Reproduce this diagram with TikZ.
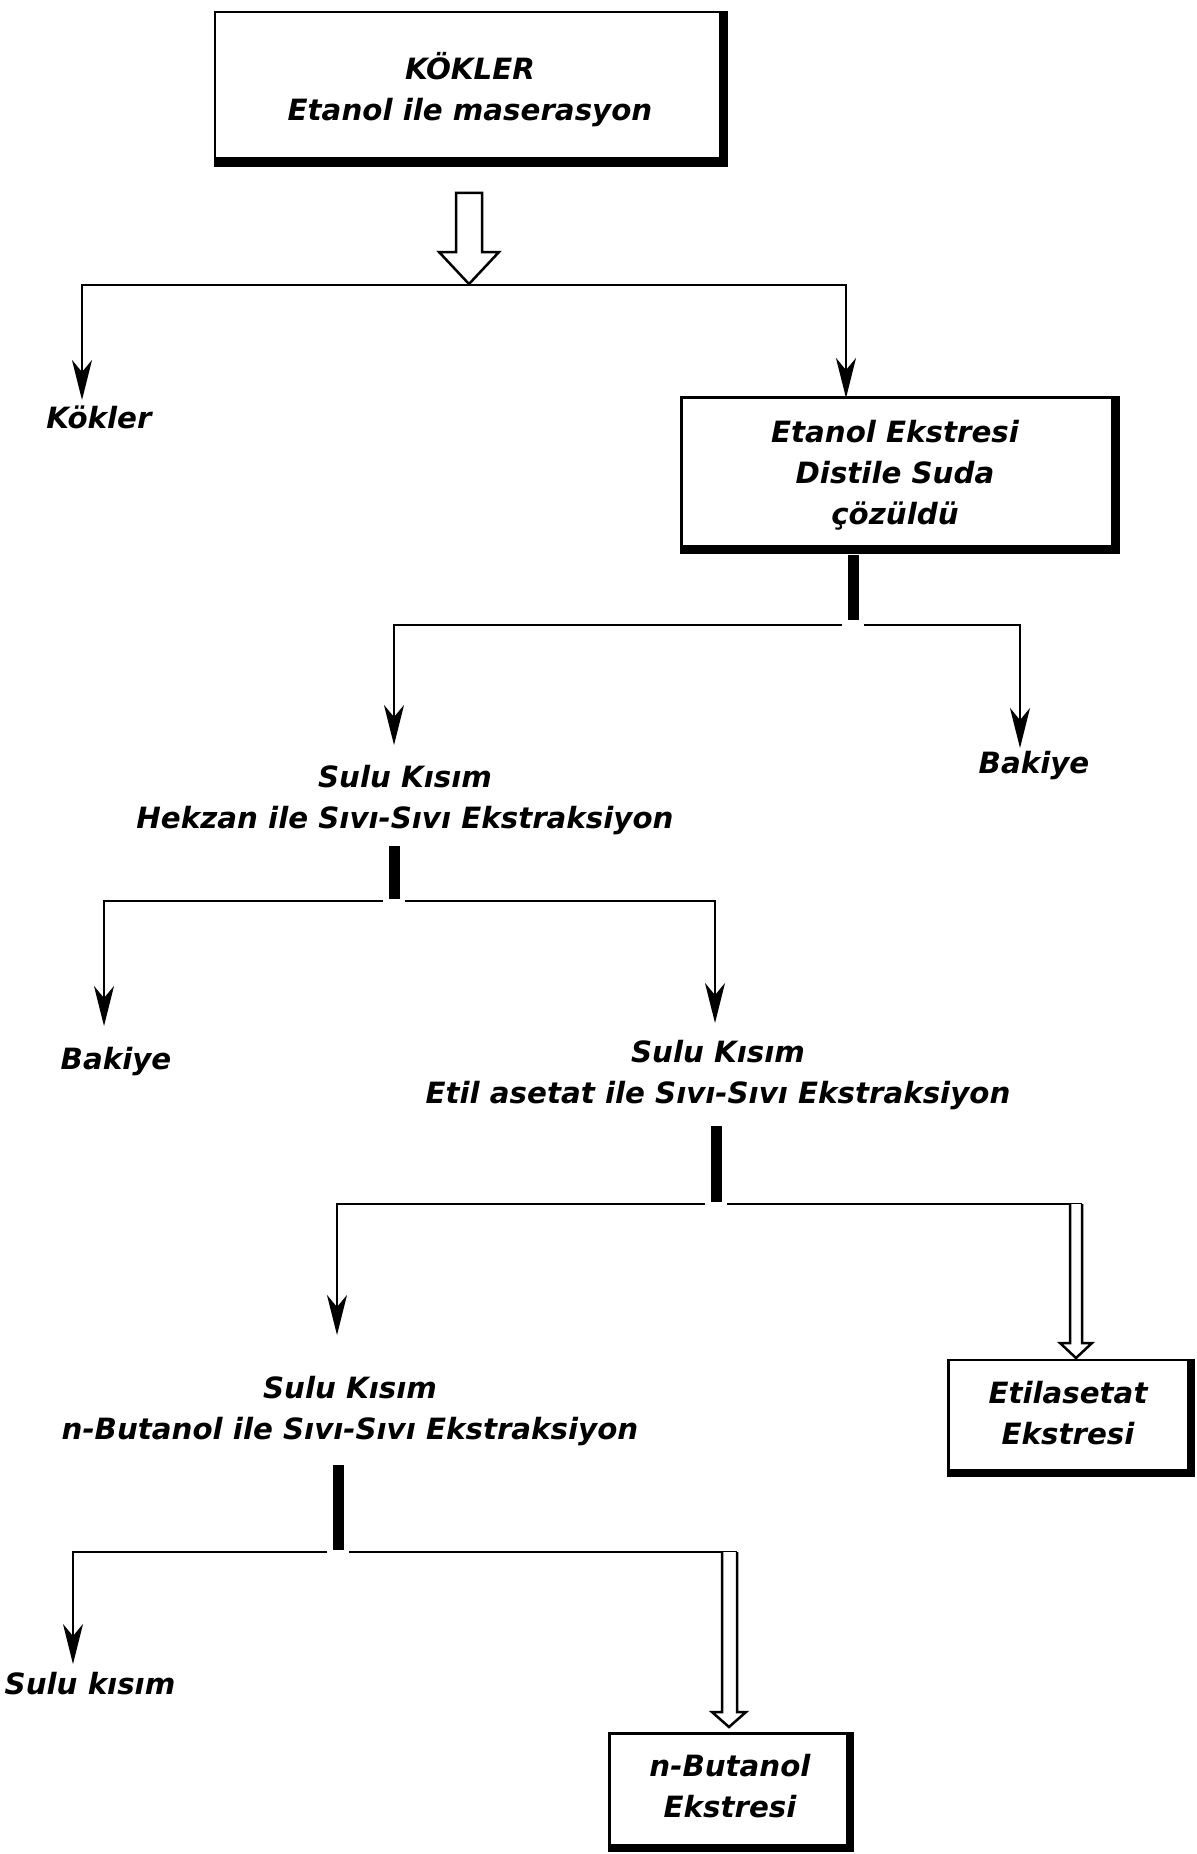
\documentclass[tikz,border=0pt]{standalone}
\usepackage{fontspec}
\setmainfont{DejaVu Sans}
\usetikzlibrary{arrows.meta,calc}
\begin{document}
\begin{tikzpicture}[x=1pt,y=-1pt,
  lbl/.style={font=\fontsize{29.3}{41}\selectfont\bfseries\itshape, align=center, inner sep=0pt},
  conn/.style={line width=2.5pt},
  arr/.style={conn, -{Stealth[length=40pt,width=20pt,inset=12pt]}},
  thickbar/.style={line width=11pt},
  hollow/.style={line width=2.5pt, fill=white, line join=miter},
  boxed/.style={draw, line width=2.5pt, inner sep=0pt}]
% canvas
\fill[white] (0,0) rectangle (1196,1854);
\useasboundingbox (0,0) rectangle (1196,1854);

% ---------- boxes ----------
\node[boxed, minimum width=512pt, minimum height=154pt] (top) at (471,89) {};
\node[lbl] (toptxt) at (470,90) {KÖKLER\\Etanol ile maserasyon};
\fill ($(top.north east)+(-9,0)$) rectangle (top.south east);
\fill ($(top.south west)+(0,-10)$) rectangle (top.south east);

\node[boxed, minimum width=437pt, minimum height=155pt] (etanol) at (900,475) {};
\node[lbl] (etanoltxt) at (895,475) {Etanol Ekstresi\\Distile Suda\\çözüldü};
\fill ($(etanol.north east)+(-9,0)$) rectangle (etanol.south east);
\fill ($(etanol.south west)+(0,-9)$) rectangle (etanol.south east);

\node[boxed, minimum width=245pt, minimum height=116pt] (etil) at (1071,1418) {};
\node[lbl] (etiltxt) at (1068,1413) {Etilasetat\\Ekstresi};
\fill ($(etil.north east)+(-8,0)$) rectangle (etil.south east);
\fill ($(etil.south west)+(0,-8)$) rectangle (etil.south east);

\node[boxed, minimum width=243pt, minimum height=117pt] (butanol) at (731,1792) {};
\node[lbl] (butanoltxt) at (730,1786) {n-Butanol\\Ekstresi};
\fill ($(butanol.north east)+(-8,0)$) rectangle (butanol.south east);
\fill ($(butanol.south west)+(0,-8)$) rectangle (butanol.south east);

% ---------- free labels ----------
\node[lbl] (kokler) at (99,417) {Kökler};
\node[lbl] (bakiye1) at (1034,766) {Bakiye};
\node[lbl] (sulu1) at (405,800) {Sulu Kısım\\Hekzan ile Sıvı-Sıvı Ekstraksiyon};
\node[lbl] (bakiye2) at (116,1062) {Bakiye};
\node[lbl] (sulu2) at (718,1075) {Sulu Kısım\\Etil asetat ile Sıvı-Sıvı Ekstraksiyon};
\node[lbl] (sulu3) at (350,1411) {Sulu Kısım\\n-Butanol ile Sıvı-Sıvı Ekstraksiyon};
\node[lbl] (sulu4) at (90,1684) {Sulu kısım};

% ---------- step 1: maceration split ----------
\draw[hollow] (456,193) -- (456,252) -- (439,252) -- (469,284) -- (499,252) -- (482,252) -- (482,193) -- cycle;
\coordinate (s1) at (469,285);
\coordinate (t1a) at (82,400);
\coordinate (t1b) at (846,398);
\draw[arr] (s1) -| (t1a);
\draw[arr] (s1) -| (t1b);

% ---------- step 2: dissolved extract ----------
\draw[thickbar] (853,555) -- (853,620);
\coordinate (g2l) at (842,625);
\coordinate (g2r) at (864,625);
\coordinate (t2a) at (394,745);
\coordinate (t2b) at (1020,748);
\draw[arr] (g2l) -| (t2a);
\draw[arr] (g2r) -| (t2b);

% ---------- step 3: hexane ----------
\draw[thickbar] (394,846) -- (394,899);
\coordinate (g3l) at (383,901);
\coordinate (g3r) at (405,901);
\coordinate (t3a) at (104,1026);
\coordinate (t3b) at (715,1023);
\draw[arr] (g3l) -| (t3a);
\draw[arr] (g3r) -| (t3b);

% ---------- step 4: ethyl acetate ----------
\draw[thickbar] (716,1126) -- (716,1202);
\coordinate (g4l) at (705,1204);
\coordinate (g4r) at (727,1204);
\coordinate (t4a) at (337,1335);
\draw[arr] (g4l) -| (t4a);
\draw[conn] (g4r) -- (1082,1204);
\draw[hollow] (1070,1204) -- (1070,1343) -- (1060,1343) -- (1076,1358) -- (1092,1343) -- (1082,1343) -- (1082,1204);

% ---------- step 5: n-butanol ----------
\draw[thickbar] (338,1465) -- (338,1550);
\coordinate (g5l) at (327,1552);
\coordinate (g5r) at (349,1552);
\coordinate (t5a) at (73,1664);
\draw[arr] (g5l) -| (t5a);
\draw[conn] (g5r) -- (737,1552);
\draw[hollow] (722,1552) -- (722,1712) -- (712,1712) -- (729,1727) -- (746,1712) -- (737,1712) -- (737,1552);
\end{tikzpicture}
\end{document}
